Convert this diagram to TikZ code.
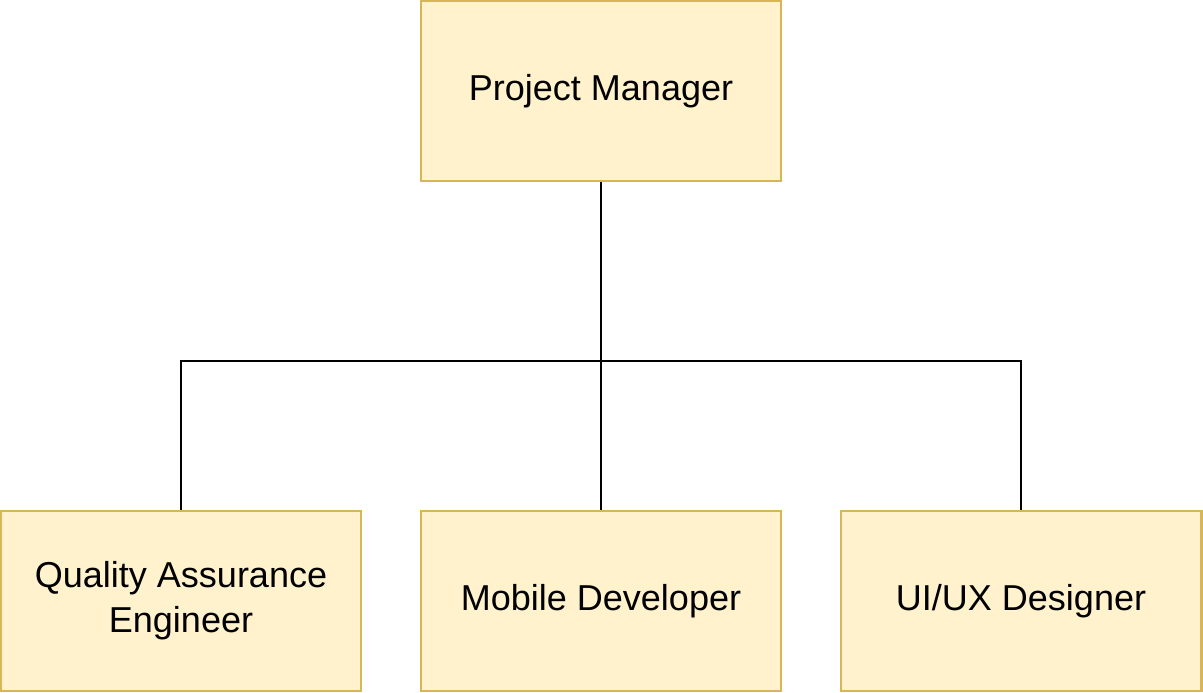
\documentclass[tikz,border=0pt]{standalone}
\usepackage{fontspec}
\setmainfont{Liberation Sans}
\definecolor{boxfill}{HTML}{FFF2CC}
\definecolor{boxline}{HTML}{D6B656}
\begin{document}
\begin{tikzpicture}[
    role/.style={draw=boxline,fill=boxfill,line width=1.7pt,minimum width=7.2cm,minimum height=3.6cm,
        align=center,font=\fontsize{20.5}{25.5}\selectfont,inner sep=0pt},
    link/.style={line width=1.7pt,black}]
    \useasboundingbox (0,0) rectangle (24.06,-13.86);
    % Boxes %
    \node[role] (pm) at (12.02,-1.82) {Project Manager};
    \node[role] (qa) at (3.62,-12.02) {Quality Assurance\\Engineer};
    \node[role] (mob) at (12.02,-12.02) {Mobile Developer};
    \node[role] (ux) at (20.42,-12.02) {UI/UX Designer};

    % Links %
    \coordinate (bus) at (12.02,-7.22);
    \draw[link] (pm.south) -- (mob.north);
    \draw[link] (qa.north) |- (bus) -| (ux.north);
\end{tikzpicture}
\end{document}
